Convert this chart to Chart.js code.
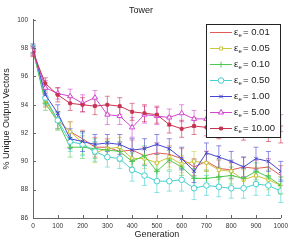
<!DOCTYPE html>
<html>
<head>
<meta charset="utf-8">
<script src="https://cdn.jsdelivr.net/npm/chart.js@4/dist/chart.umd.min.js"></script>
<style>
  html, body { margin: 0; padding: 0; background: #fff; }
  #wrap { width: 292px; height: 242px; }
</style>
</head>
<body>
<div id="wrap"><canvas id="grafica"></canvas></div>
<script>
// generations on the x axis
const generaciones = [0,50,100,150,200,250,300,350,400,450,500,550,600,650,700,750,800,850,900,950,1000];

const etiquetas = ["0.01","0.05","0.10","0.50","1.00","5.00","10.00"];

// % unique output vectors, one array per epsilon
const e001  = [97.8,94.4,92.9,92.1,91.6,91.0,91.0,90.7,90.8,90.4,90.6,90.5,90.2,89.6,90.0,89.5,89.4,89.6,89.5,89.6,89.0];
const e005  = [97.9,94.3,92.9,92.1,91.3,90.6,90.9,91.0,90.2,90.2,89.9,90.3,89.8,90.0,89.9,89.4,89.3,88.7,89.0,88.7,88.3];
const e010  = [97.9,94.1,92.8,91.0,91.0,90.9,90.8,90.7,90.0,90.4,89.3,90.1,89.6,88.8,88.8,88.9,89.0,88.8,89.3,88.9,88.3];
const e050  = [97.9,94.5,92.9,91.4,91.2,90.7,90.3,90.2,89.4,89.0,88.6,88.6,88.7,88.1,88.3,88.2,88.1,88.1,88.4,88.3,87.9];
const e100  = [98.0,94.7,93.4,91.6,91.4,91.2,91.3,91.2,90.8,90.9,91.2,90.9,90.2,89.3,90.6,90.3,90.0,89.6,90.2,90.0,89.3];
const e500  = [97.8,95.2,94.8,94.6,94.1,94.5,93.3,93.2,92.4,93.3,93.2,93.1,93.4,93.0,93.0,92.9,92.8,92.9,92.7,92.9,92.7];
const e1000 = [97.7,95.5,94.7,94.1,94.0,93.9,94.0,93.9,93.5,93.4,93.3,92.6,92.3,92.5,92.4,92.2,92.3,92.1,92.3,92.0,91.9];

// half widths of the error bars
const err001  = [0.3,0.5,0.6,0.7,0.6,0.7,0.6,0.6,0.7,0.6,0.7,0.6,0.7,0.6,0.7,0.6,0.6,0.7,0.6,0.6,0.7];
const err005  = [0.3,0.5,0.6,0.7,0.8,0.7,0.6,0.7,0.6,0.7,0.6,0.7,0.6,0.7,0.6,0.7,0.6,0.7,0.6,0.7,0.6];
const err010  = [0.3,0.5,0.6,0.7,0.8,0.7,0.6,0.7,0.6,0.7,0.6,0.7,0.6,0.7,0.6,0.7,0.6,0.7,0.6,0.7,0.6];
const err050  = [0.3,0.5,0.6,0.7,0.8,0.7,0.7,0.7,0.8,0.7,0.8,0.7,0.8,0.8,0.7,0.7,0.7,0.7,0.8,0.7,0.8];
const err100  = [0.3,0.5,0.6,0.7,0.7,0.7,0.6,0.7,0.8,0.7,0.7,0.7,0.8,0.8,0.7,0.8,0.7,0.7,0.8,0.7,0.7];
const err500  = [0.3,0.5,0.4,0.5,0.6,0.5,0.7,0.6,0.7,0.6,0.6,0.6,0.6,0.6,0.6,0.6,0.6,0.6,0.6,0.6,0.6];
const err1000 = [0.3,0.4,0.5,0.5,0.5,0.6,0.6,0.6,0.6,0.6,0.6,0.6,0.6,0.6,0.6,0.6,0.6,0.6,0.6,0.6,0.6];

const valores = [e001,e005,e010,e050,e100,e500,e1000];
const errores = [err001,err005,err010,err050,err100,err500,err1000];

const colores = ["#e05a5a","#c8c83c","#4ec84e","#46d0d0","#4646d2","#d246d2","#c83250"];
const errColores = ["rgba(224,90,90,0.55)","rgba(200,200,60,0.55)","rgba(78,200,78,0.55)","rgba(70,208,208,0.6)","rgba(70,70,210,0.6)","rgba(210,70,210,0.6)","rgba(200,50,80,0.6)"];
const marcadores = ["circle","rect","cross","circle","crossRot","triangle","rect"];
const radios = [0,2.2,2.8,2.8,2.5,3,2];
const rellenos = ["#fff","#fff",colores[2],"#fff",colores[4],"#fff",colores[6]];

const fuente = "'Liberation Sans', Arial, sans-serif";

let datasets = [];
for (let i=0;i<valores.length;i++){
  datasets.push({
    label: etiquetas[i],
    data: valores[i].map((v,j) => ({x: generaciones[j], y: v})),
    borderColor: colores[i],
    backgroundColor: rellenos[i],
    borderWidth: 1,
    pointStyle: marcadores[i],
    pointRadius: radios[i],
    pointBorderWidth: 1,
    pointBorderColor: colores[i],
    pointBackgroundColor: rellenos[i],
    order: -i
  })
}

// error bars behind the lines
const barrasError = {
  id: "barrasError",
  beforeDatasetsDraw(chart){
    const ctx = chart.ctx;
    const yS = chart.scales.y;
    ctx.save();
    ctx.lineWidth = 1;
    for (let i=0;i<valores.length;i++){
      const meta = chart.getDatasetMeta(i);
      ctx.strokeStyle = errColores[i];
      ctx.beginPath();
      for (let j=0;j<valores[i].length;j++){
        const x = meta.data[j].x;
        const y1 = yS.getPixelForValue(valores[i][j]+errores[i][j]);
        const y2 = yS.getPixelForValue(valores[i][j]-errores[i][j]);
        ctx.moveTo(x, y1); ctx.lineTo(x, y2);
        ctx.moveTo(x-2.5, y1); ctx.lineTo(x+2.5, y1);
        ctx.moveTo(x-2.5, y2); ctx.lineTo(x+2.5, y2);
      }
      ctx.stroke();
    }
    ctx.restore();
  }
};

// small tick marks pointing into the plot
const marcasDentro = {
  id: "marcasDentro",
  afterDraw(chart){
    const ctx = chart.ctx;
    const a = chart.chartArea;
    ctx.save();
    ctx.strokeStyle = "#666";
    ctx.lineWidth = 1;
    ctx.beginPath();
    chart.scales.x.ticks.forEach((t,k) => {
      const x = Math.round(chart.scales.x.getPixelForTick(k))+0.5;
      ctx.moveTo(x, a.bottom); ctx.lineTo(x, a.bottom-3);
    });
    chart.scales.y.ticks.forEach((t,k) => {
      const y = Math.round(chart.scales.y.getPixelForTick(k))+0.5;
      ctx.moveTo(a.left, y); ctx.lineTo(a.left+3, y);
    });
    ctx.stroke();
    ctx.restore();
  }
};

// boxed legend on top of the plot, epsilon with subscript e
const leyenda = {
  id: "leyenda",
  afterDatasetsDraw(chart){
    const ctx = chart.ctx;
    const bx = 206, by = 24, bw = 74, bh = 113;
    ctx.save();
    ctx.fillStyle = "#fff";
    ctx.fillRect(bx, by, bw, bh);
    ctx.strokeStyle = "#222";
    ctx.lineWidth = 1;
    ctx.strokeRect(bx+0.5, by+0.5, bw, bh);
    for (let i=0;i<etiquetas.length;i++){
      const y = 32.5 + 16*i;
      ctx.strokeStyle = colores[i];
      ctx.lineWidth = 1;
      ctx.beginPath();
      ctx.moveTo(210, y); ctx.lineTo(232, y);
      ctx.stroke();
      if (radios[i] > 0){
        ctx.strokeStyle = colores[i];
        ctx.fillStyle = rellenos[i];
        ctx.lineWidth = 1;
        Chart.helpers.drawPoint(ctx, {
          pointStyle: marcadores[i], radius: radios[i], rotation: 0,
          borderWidth: 1
        }, 221, y);
      }
      ctx.fillStyle = "#222";
      ctx.textBaseline = "middle";
      ctx.font = "9.5px " + fuente;
      ctx.fillText("\u03b5", 234, y);
      ctx.font = "6px " + fuente;
      ctx.fillText("e", 238.5, y + 3);
      ctx.font = "9.5px " + fuente;
      ctx.fillText("= " + etiquetas[i], 243, y);
    }
    ctx.restore();
  }
};

const miCanvas = document.getElementById("grafica").getContext("2d");

const chart = new Chart(miCanvas, {
  type: "line",
  data: { datasets: datasets },
  plugins: [barrasError, leyenda, marcasDentro],
  options: {
    responsive: true,
    maintainAspectRatio: false,
    animation: false,
    layout: { padding: { left: 0, right: 10, top: 0, bottom: 0 } },
    plugins: {
      legend: { display: false },
      tooltip: { enabled: false },
      title: {
        display: true,
        text: "Tower",
        color: "#222",
        font: { family: fuente, size: 9, weight: "normal" },
        padding: { top: 5, bottom: 4 }
      }
    },
    scales: {
      x: {
        type: "linear",
        min: 0, max: 1000,
        ticks: { stepSize: 100, color: "#333", padding: 4, maxRotation: 0,
                 callback: v => String(v),
                 font: { family: fuente, size: 6.5 } },
        grid: { display: true, drawOnChartArea: false, drawTicks: false },
        border: { display: true, color: "#666" },
        title: { display: true, text: "Generation", color: "#222",
                 font: { family: fuente, size: 9 }, padding: { top: 0, bottom: 2 } },
        afterFit(s){ s.height = 24; }
      },
      y: {
        min: 86, max: 100,
        ticks: { stepSize: 2, color: "#333", padding: 5,
                 font: { family: fuente, size: 6.5 } },
        grid: { display: true, drawOnChartArea: false, drawTicks: false },
        border: { display: true, color: "#666" },
        title: { display: true, text: "% Unique Output Vectors", color: "#222",
                 font: { family: fuente, size: 9 }, padding: { top: 1, bottom: 0 } },
        afterFit(s){ s.width = 33; }
      }
    }
  }
});
</script>
</body>
</html>
